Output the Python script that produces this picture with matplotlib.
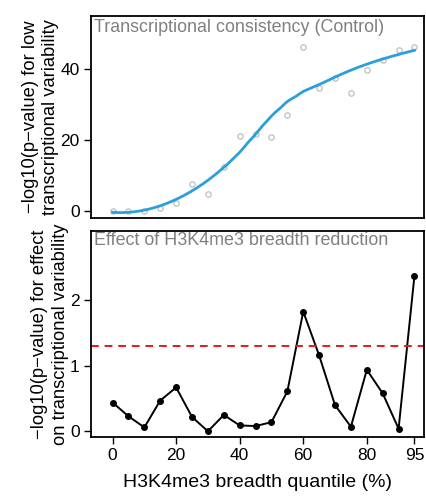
import numpy as np
import matplotlib.pyplot as plt

plt.rcParams['font.family'] = ['Liberation Sans', 'DejaVu Sans']

# breadth quantiles (%)
quantile = np.arange(0, 100, 5)

# -log10(p) for low transcriptional variability, control
consistency = [0.0, 0.0, 0.0, 0.8, 2.2, 7.5, 4.9, 12.5, 21.1, 21.6,
               21.0, 27.0, 46.2, 34.6, 37.5, 33.4, 39.8, 42.7, 45.4, 46.3]

# -log10(p) for effect of breadth reduction
effect = [0.44, 0.23, 0.06, 0.47, 0.67, 0.22, 0.0, 0.25, 0.09, 0.08,
          0.14, 0.61, 1.83, 1.16, 0.40, 0.07, 0.94, 0.58, 0.04, 2.38]

xticks = [0, 20, 40, 60, 80, 95]


def loess(x, y, xs, span=0.75):
    # local quadratic fit with tricube weights (like R's loess defaults)
    x = np.asarray(x, float)
    y = np.asarray(y, float)
    q = int(np.floor(span * len(x)))
    out = []
    for x0 in xs:
        d = np.abs(x - x0)
        h = np.sort(d)[q - 1]
        w = np.clip(1 - (d / h) ** 3, 0, None) ** 3
        A = np.vstack([np.ones_like(x), x - x0, (x - x0) ** 2]).T
        sw = np.sqrt(w)
        beta = np.linalg.lstsq(A * sw[:, None], y * sw, rcond=None)[0]
        out.append(beta[0])
    return np.array(out)


fig = plt.figure(figsize=(4.27, 4.97), dpi=100)
ax1 = fig.add_axes([0.213, 0.561, 0.780, 0.407])
ax2 = fig.add_axes([0.213, 0.121, 0.780, 0.414])

# top panel
xs = np.linspace(0, 95, 200)
ax1.plot(quantile, consistency, 'o', mfc='none', mec='#c4c4c4', ms=3.8, mew=1.0)
ax1.plot(xs, loess(quantile, consistency, xs), color='#2b9fdc', lw=2)
ax1.set_xlim(-6.8, 98)
ax1.set_ylim(-2, 55)
ax1.set_yticks([0, 20, 40])
ax1.set_xticks([])
ax1.text(0.008, 0.985, 'Transcriptional consistency (Control)', transform=ax1.transAxes,
         ha='left', va='top', color='#808080', fontsize=12.9)
ax1.set_ylabel('\u2212log10(p\u2212value) for low\ntranscriptional variability',
               fontsize=13.2, labelpad=1, linespacing=1.25)

# bottom panel
ax2.plot(quantile, effect, '-o', color='black', ms=4, lw=1.4)
ax2.axhline(-np.log10(0.05), color='#e41a1c', ls=(0, (4, 3)), lw=1.4)
ax2.set_xlim(-6.8, 98)
ax2.set_ylim(-0.085, 3.06)
ax2.set_yticks([0, 1, 2])
ax2.set_xticks(xticks)
ax2.text(0.008, 0.995, 'Effect of H3K4me3 breadth reduction', transform=ax2.transAxes,
         ha='left', va='top', color='#808080', fontsize=12.9)
ax2.set_ylabel('\u2212log10(p\u2212value) for effect\non transcriptional variability',
               fontsize=13.2, labelpad=1, linespacing=1.25)
ax2.set_xlabel('H3K4me3 breadth quantile (%)', fontsize=14, labelpad=8)

for ax in (ax1, ax2):
    for s in ax.spines.values():
        s.set_linewidth(1.3)
    ax.tick_params(direction='out', length=5, width=1, labelsize=12.5, pad=3)

fig.savefig('out.png', dpi=100)
